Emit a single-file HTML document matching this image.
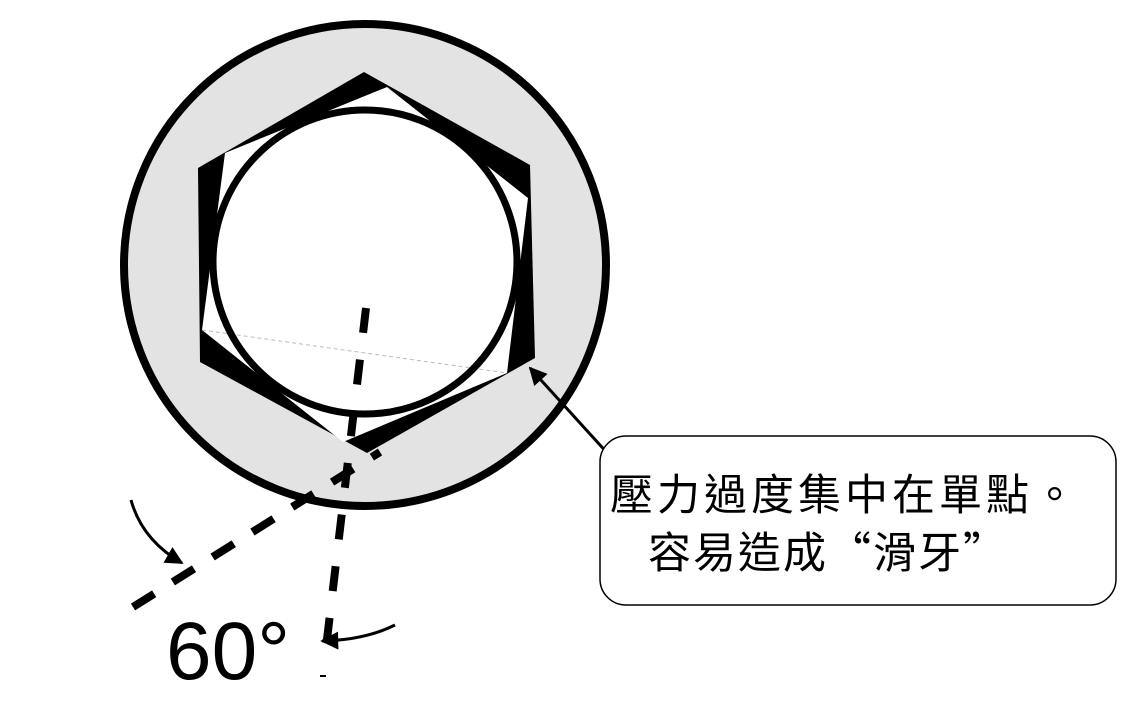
<!DOCTYPE html>
<html><head><meta charset="utf-8"><style>
html,body{margin:0;padding:0;background:#fff;}
svg{display:block}
</style></head><body>
<svg width="1137" height="709" viewBox="0 0 1137 709" xmlns="http://www.w3.org/2000/svg">
<defs>
<marker id="ah" viewBox="0 0 10 10" refX="9" refY="5" markerWidth="24" markerHeight="18" orient="auto" markerUnits="userSpaceOnUse">
<path d="M0,0 L10,5 L0,10 z" fill="#000"/>
</marker>
</defs>
<circle cx="365" cy="265" r="241" fill="#e3e3e3" stroke="#000" stroke-width="8"/>
<polygon points="364,72 530,165 535,358 367,453 200,362 198,168" fill="#000"/>
<polygon points="387,87 528,198 507,373 343,442 202,330 225,153" fill="#fff"/>
<line x1="202" y1="330" x2="507" y2="373" stroke="#bbb" stroke-width="1" stroke-dasharray="4,3"/>
<circle cx="365" cy="262" r="152" fill="none" stroke="#000" stroke-width="7"/>
<line x1="366" y1="308" x2="326" y2="648" stroke="#000" stroke-width="8" stroke-dasharray="25,27"/>
<line x1="320" y1="676" x2="326" y2="676" stroke="#000" stroke-width="2"/>
<line x1="133" y1="607" x2="380" y2="452" stroke="#000" stroke-width="8" stroke-dasharray="25,22"/>
<path d="M131,500 Q142,540 182,563" fill="none" stroke="#000" stroke-width="3" marker-end="url(#ah)"/>
<path d="M395,625 Q365,640 322,641" fill="none" stroke="#000" stroke-width="3" marker-end="url(#ah)"/>
<text x="166" y="679" font-family="Liberation Sans, sans-serif" font-size="82">60°</text>
<line x1="610" y1="456" x2="530" y2="368" stroke="#000" stroke-width="3" marker-end="url(#ah)"/>
<rect x="600" y="436" width="516" height="169" rx="26" fill="#fff" stroke="#000" stroke-width="1.5"/>
<text x="610" y="510" font-family="'Noto Sans CJK TC', sans-serif" font-size="43" letter-spacing="4">壓力過度集中在單點。</text>
<text x="648" y="568" font-family="'Noto Sans CJK TC', sans-serif" font-size="43" letter-spacing="2">容易造成“滑牙”</text>
</svg>
</body></html>
